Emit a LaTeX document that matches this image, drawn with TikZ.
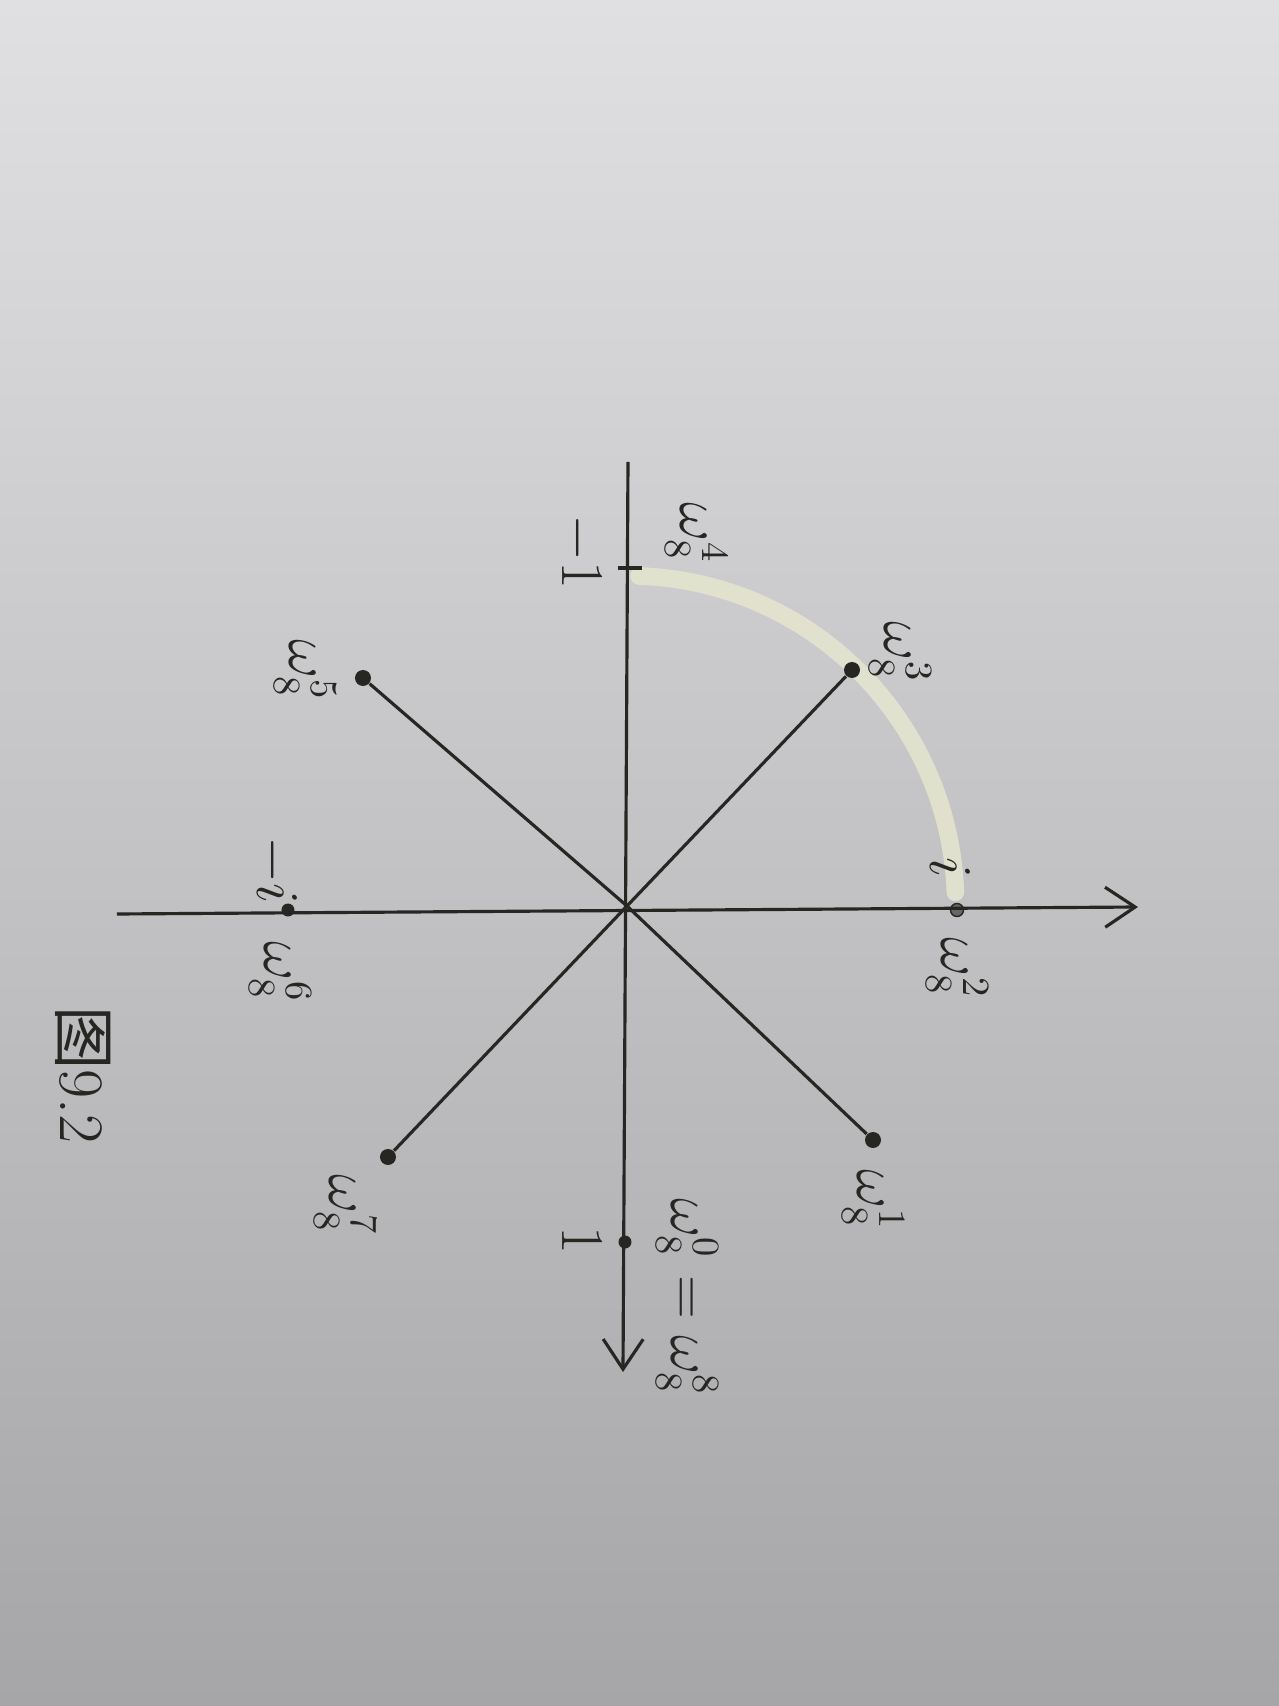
\documentclass[tikz,border=0pt]{standalone}
\usepackage{amsmath,amssymb}
\usepackage{fontspec}
\newfontfamily\cjk{Noto Sans CJK SC}
\usepackage{tikz}
\usetikzlibrary{arrows.meta,positioning,calc}
\usepackage{xcolor}

\definecolor{ink}{RGB}{38,38,34}
\definecolor{paperTop}{RGB}{224,224,226}
\definecolor{paperBot}{RGB}{166,165,167}
\definecolor{marker}{RGB}{229,230,207}

\begin{document}
\begin{tikzpicture}[>={Straight Barb[length=3mm,width=4mm]},
  lbl/.style={rotate=-90, inner sep=1pt, text=ink, font=\fontsize{16}{19}\selectfont},
  dot/.style={circle, fill=ink, inner sep=0pt, minimum size=1.3mm},
  axis/.style={draw=ink, line width=0.9pt}]

  % paper
  \shade[top color=paperTop, bottom color=paperBot] (-6.27,-8.00) rectangle (6.52,9.06);
  \useasboundingbox (-6.27,-8.00) rectangle (6.52,9.06);

  % Define coordinates for the axes
  \coordinate (O) at (0,0);
  \coordinate (xs) at (-5.10,-0.08);
  \coordinate (xe) at (5.11,-0.01);
  \coordinate (ys) at (0.01,4.44);
  \coordinate (ye) at (-0.04,-4.66);

  % highlighted arc from -1 to i
  \draw[marker, line width=5pt, line cap=round, opacity=0.85] (0.12,3.30) arc[start angle=88, end angle=2, radius=3.28];

  % Define nodes for the roots
  \node[dot] (w0) at (-0.02,-3.36) {};
  \node[dot, minimum size=1.6mm] (w1) at (2.46,-2.34) {};
  \node[dot, fill=ink!70, draw=ink] (w2) at (3.30,-0.04) {};
  \node[dot, minimum size=1.6mm] (w3) at (2.25,2.36) {};
  \node[inner sep=0pt] (w4) at (0.03,3.38) {};
  \node[dot, minimum size=1.6mm] (w5) at (-2.64,2.28) {};
  \node[dot] (w6) at (-3.39,-0.04) {};
  \node[dot, minimum size=1.6mm] (w7) at (-2.39,-2.51) {};

  % Draw axes
  \draw[axis, ->] (xs) -- (xe);
  \draw[axis, ->] (ys) -- (ye);
  \draw[axis] ($(w4)+(-0.12,0)$) -- ($(w4)+(0.12,0)$);

  % Draw diagonals
  \draw[axis] (O) -- (w1);
  \draw[axis] (O) -- (w3);
  \draw[axis] (O) -- (w5);
  \draw[axis] (O) -- (w7);

  % Labels
  \node[lbl] (l0) at (0.60,-3.91) {$\omega_8^0=\omega_8^8$};
  \node[lbl] (one) at (-0.45,-3.34) {$1$};
  \node[lbl] (l1) at (2.46,-2.94) {$\omega_8^1$};
  \node[lbl] (l2) at (3.30,-0.62) {$\omega_8^2$};
  \node[lbl] (im) at (3.23,0.38) {$i$};
  \node[lbl] (l3) at (2.73,2.54) {$\omega_8^3$};
  \node[lbl] (l4) at (0.69,3.73) {$\omega_8^4$};
  \node[lbl] (mone) at (-0.47,3.54) {$-1$};
  \node[lbl] (l5) at (-3.22,2.36) {$\omega_8^5$};
  \node[lbl] (mim) at (-3.52,0.36) {$-i$};
  \node[lbl] (l6) at (-3.47,-0.66) {$\omega_8^6$};
  \node[lbl] (l7) at (-2.82,-2.99) {$\omega_8^7$};

  % caption
  \node[lbl, font=\fontsize{18}{21}\selectfont] (cap) at (-5.44,-1.69) {{\cjk 图}9.2};
\end{tikzpicture}
\end{document}
